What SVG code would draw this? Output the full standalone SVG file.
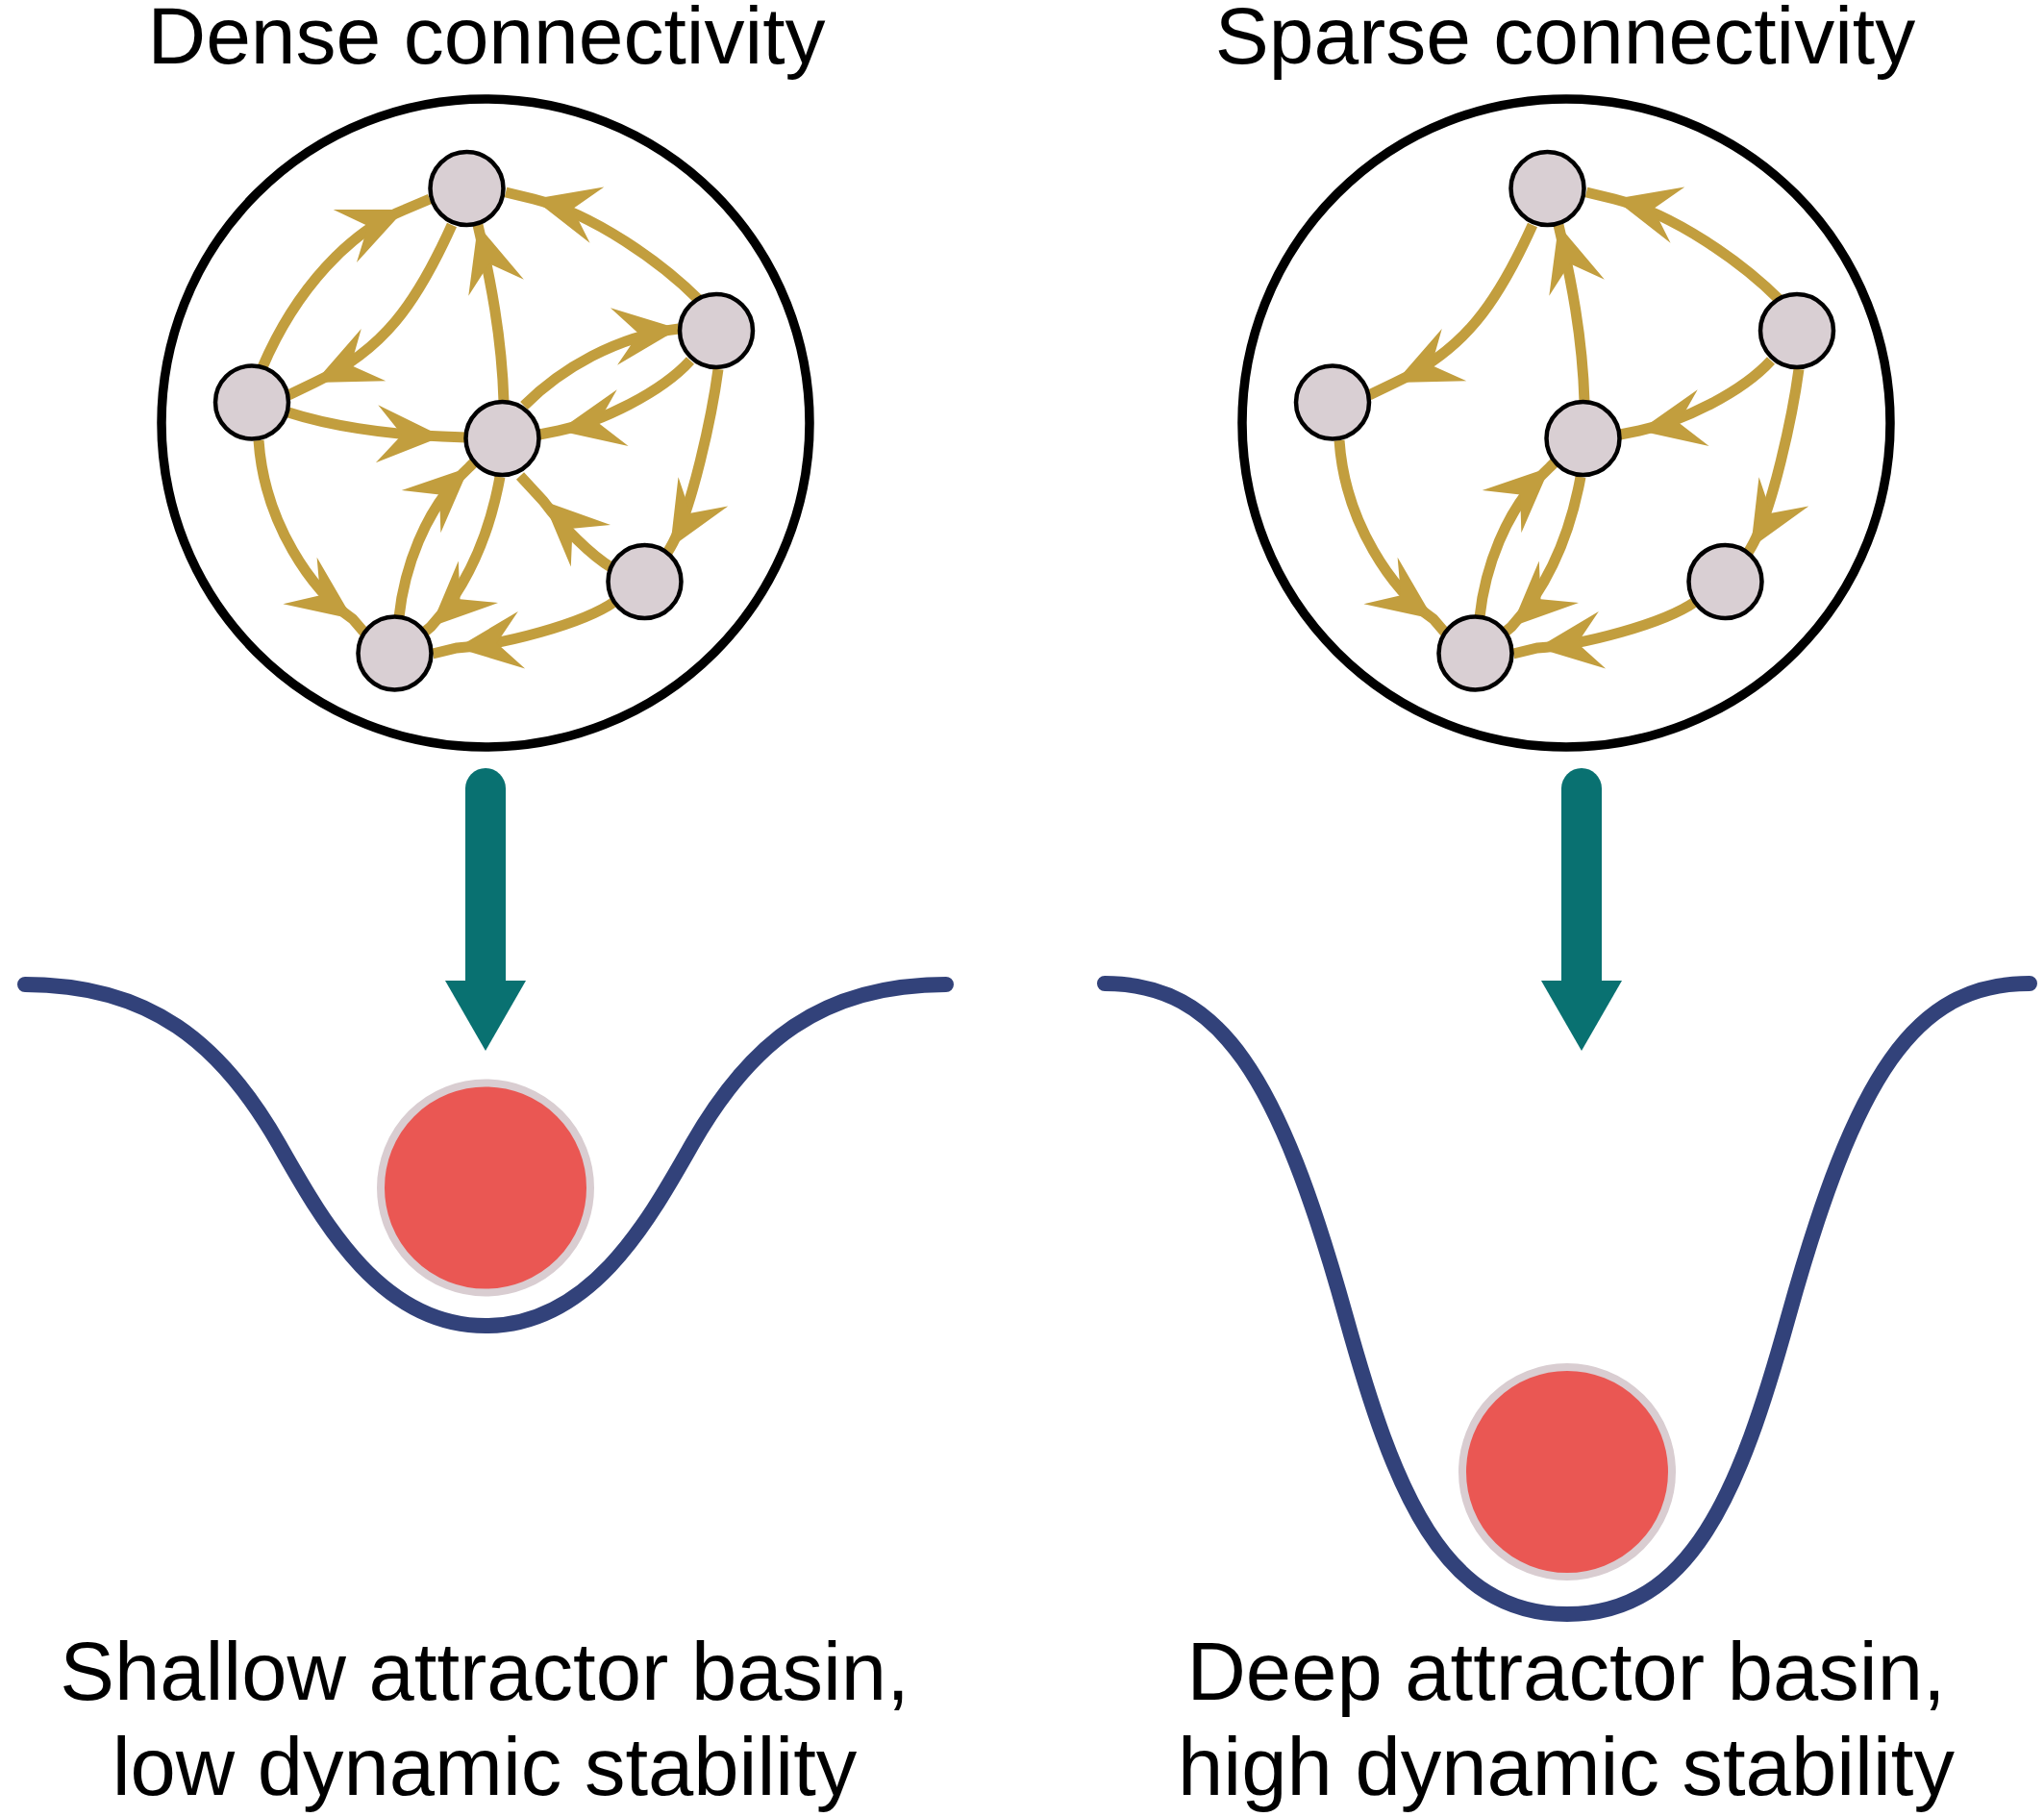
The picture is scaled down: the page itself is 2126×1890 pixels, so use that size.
<svg xmlns="http://www.w3.org/2000/svg" width="2126" height="1890" viewBox="0 0 2126 1890">
<style>
.edge{fill:none;stroke:#c29e3e;stroke-width:11}
.ah{fill:#c29e3e}
.node{fill:#d9cfd3;stroke:#000;stroke-width:4.5}
.ring{fill:none;stroke:#000;stroke-width:9.5}
.basin{fill:none;stroke:#32427a;stroke-width:16;stroke-linecap:round}
.ball{fill:#ea5753;stroke:#d9cdd1;stroke-width:8}
.shaft{stroke:#097171;stroke-width:42;stroke-linecap:round}
.head{fill:#097171}
text{font-family:"Liberation Sans",Arial,Helvetica,sans-serif;font-size:84px;fill:#000;text-anchor:middle}
.cap{font-size:85px}
</style>
<defs>
<path id="ah" d="M0,0 L-68,-30 L-42,0 L-68,30 Z"/>
</defs>
<rect width="2126" height="1890" fill="#fff"/>

<g id="titles">
<text x="506" y="66">Dense connectivity</text>
<text x="1628" y="66">Sparse connectivity</text>
</g>

<g id="dense-network">
<circle id="dense-ring" class="ring" cx="505" cy="440" r="337"/>
<g id="dense-connectors">
<path class="edge" d="M273,382 C308,300 365,240 421,218 L447,207"/>
<use href="#ah" class="ah" transform="translate(421,218) rotate(-23.9)"/>
<path class="edge" d="M470,234 C433,316 399,364 327,398 L300,411"/>
<use href="#ah" class="ah" transform="translate(327,398) rotate(154.8)"/>
<path class="edge" d="M727,312 C688,273 618,223 555,207 L526,200"/>
<use href="#ah" class="ah" transform="translate(555,207) rotate(-165.8)"/>
<path class="edge" d="M524,418 C522,350 510,290 497,234"/>
<use href="#ah" class="ah" transform="translate(497,234) rotate(-106.3)"/>
<path class="edge" d="M300,429 C340,442 400,452 460,454 L485,455"/>
<use href="#ah" class="ah" transform="translate(460,454) rotate(2.3)"/>
<path class="edge" d="M545,422 C583.5,383.5 641.5,349.7 706,342"/>
<use href="#ah" class="ah" transform="translate(706,342) rotate(-6.8)"/>
<path class="edge" d="M718,375 C688,408 625,439 581,448 L561,452"/>
<use href="#ah" class="ah" transform="translate(581,448) rotate(168.6)"/>
<path class="edge" d="M747,384 C741,429 720,531 697,570 L694,575"/>
<use href="#ah" class="ah" transform="translate(697,570) rotate(120.4)"/>
<path class="edge" d="M637,591 C615,578 585,548 565,521 L541,495"/>
<use href="#ah" class="ah" transform="translate(565,521) rotate(-136.6)"/>
<path class="edge" d="M639,626 C606,649 522,671 475,674 L450,680"/>
<use href="#ah" class="ah" transform="translate(475,674) rotate(173)"/>
<path class="edge" d="M269,458 C275,545 325,615 367,644 L379,658"/>
<use href="#ah" class="ah" transform="translate(367,644) rotate(36)"/>
<path class="edge" d="M415,642 C420,595 440,530 488,486 L493,481"/>
<use href="#ah" class="ah" transform="translate(488,486) rotate(-42.7)"/>
<path class="edge" d="M520,496 C512,540 495,600 448,652 L442,657"/>
<use href="#ah" class="ah" transform="translate(448,652) rotate(136.6)"/>
</g>
<g id="dense-n-top"><circle class="node" cx="485.5" cy="196" r="38"/></g>
<g id="dense-n-left"><circle class="node" cx="262" cy="418.5" r="38"/></g>
<g id="dense-n-center"><circle class="node" cx="522.5" cy="456" r="38"/></g>
<g id="dense-n-right"><circle class="node" cx="745" cy="344" r="38"/></g>
<g id="dense-n-lowright"><circle class="node" cx="670.5" cy="605" r="38"/></g>
<g id="dense-n-bottom"><circle class="node" cx="410.5" cy="679.5" r="38"/></g>
</g>

<g id="sparse-network" transform="translate(1124,0)">
<circle id="sparse-ring" class="ring" cx="505" cy="440" r="337"/>
<g id="sparse-connectors">
<path class="edge" d="M470,234 C433,316 399,364 327,398 L300,411"/>
<use href="#ah" class="ah" transform="translate(327,398) rotate(154.8)"/>
<path class="edge" d="M727,312 C688,273 618,223 555,207 L526,200"/>
<use href="#ah" class="ah" transform="translate(555,207) rotate(-165.8)"/>
<path class="edge" d="M524,418 C522,350 510,290 497,234"/>
<use href="#ah" class="ah" transform="translate(497,234) rotate(-106.3)"/>
<path class="edge" d="M718,375 C688,408 625,439 581,448 L561,452"/>
<use href="#ah" class="ah" transform="translate(581,448) rotate(168.6)"/>
<path class="edge" d="M747,384 C741,429 720,531 697,570 L694,575"/>
<use href="#ah" class="ah" transform="translate(697,570) rotate(120.4)"/>
<path class="edge" d="M639,626 C606,649 522,671 475,674 L450,680"/>
<use href="#ah" class="ah" transform="translate(475,674) rotate(173)"/>
<path class="edge" d="M269,458 C275,545 325,615 367,644 L379,658"/>
<use href="#ah" class="ah" transform="translate(367,644) rotate(36)"/>
<path class="edge" d="M415,642 C420,595 440,530 488,486 L493,481"/>
<use href="#ah" class="ah" transform="translate(488,486) rotate(-42.7)"/>
<path class="edge" d="M520,496 C512,540 495,600 448,652 L442,657"/>
<use href="#ah" class="ah" transform="translate(448,652) rotate(136.6)"/>
</g>
<g id="sparse-n-top"><circle class="node" cx="485.5" cy="196" r="38"/></g>
<g id="sparse-n-left"><circle class="node" cx="262" cy="418.5" r="38"/></g>
<g id="sparse-n-center"><circle class="node" cx="522.5" cy="456" r="38"/></g>
<g id="sparse-n-right"><circle class="node" cx="745" cy="344" r="38"/></g>
<g id="sparse-n-lowright"><circle class="node" cx="670.5" cy="605" r="38"/></g>
<g id="sparse-n-bottom"><circle class="node" cx="410.5" cy="679.5" r="38"/></g>
</g>

<g id="transition-arrows">
<line class="shaft" x1="505" y1="820" x2="505" y2="1024"/>
<polygon class="head" points="463,1020 547,1020 505,1093"/>
<line class="shaft" x1="1645" y1="820" x2="1645" y2="1024"/>
<polygon class="head" points="1603,1020 1687,1020 1645,1093"/>
</g>

<g id="shallow-basin">
<path class="basin" d="M26,1024 C156,1024 230,1085 290,1190 C335,1269 395,1379 505,1379 C615,1379 675,1269 720,1190 C780,1085 854,1024 984,1024"/>
<circle class="ball" cx="505" cy="1235.5" r="109"/>
</g>

<g id="deep-basin">
<path class="basin" d="M1149,1023 C1269,1023 1330,1118 1400,1370 C1450,1550 1500,1679 1630,1679 C1760,1679 1810,1550 1860,1370 C1930,1118 1991,1023 2111,1023"/>
<circle class="ball" cx="1630" cy="1531" r="109"/>
</g>

<g id="captions">
<text class="cap" x="504" y="1768">Shallow attractor basin,</text>
<text class="cap" x="504" y="1867">low dynamic stability</text>
<text class="cap" x="1629" y="1768">Deep attractor basin,</text>
<text class="cap" x="1629" y="1867">high dynamic stability</text>
</g>
</svg>
